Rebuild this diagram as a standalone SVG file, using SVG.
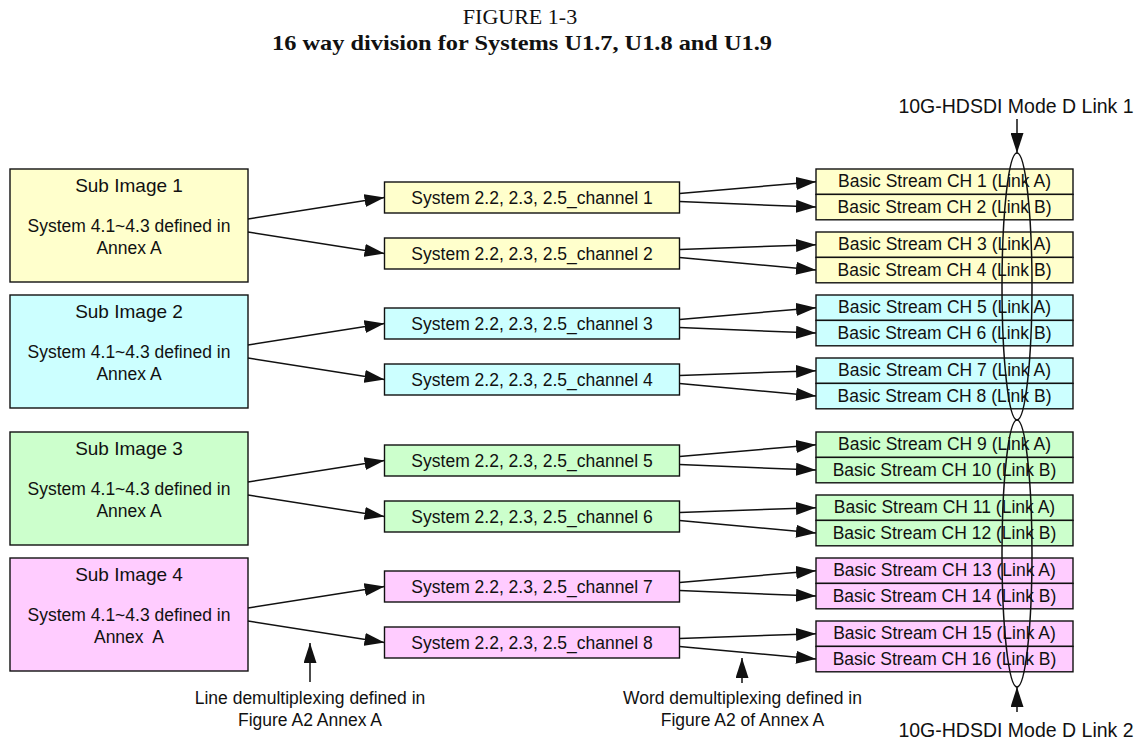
<svg xmlns="http://www.w3.org/2000/svg" width="1144" height="743" viewBox="0 0 1144 743">
<style>
text{font-family:"Liberation Sans",Arial,sans-serif;fill:#111;text-anchor:middle}
.ttl{font-family:"Liberation Serif","Times New Roman",serif;font-size:22px}
.ttlb{font-family:"Liberation Serif","Times New Roman",serif;font-size:22px;font-weight:bold}
.box{stroke:#111;stroke-width:1.4}
.y{fill:#FFFFCC}.c{fill:#CCFFFF}.g{fill:#CCFFCC}.p{fill:#FFCCFF}
.st{font-size:19px}
.bd{font-size:17.5px}
.lk{font-size:19.5px}
.cn line{stroke:#111;stroke-width:1.5;marker-end:url(#ah)}
.el{fill:none;stroke:#111;stroke-width:1.5}
</style>
<defs>
<marker id="ah" markerUnits="userSpaceOnUse" markerWidth="20" markerHeight="13" refX="20" refY="6.5" orient="auto">
<path d="M0,0 L20,6.5 L0,13 z" fill="#111"/>
</marker>
</defs>
<rect width="1144" height="743" fill="#fff"/>
<text class="ttl" x="520" y="24">FIGURE 1-3</text>
<text class="ttlb" x="522" y="49.5" textLength="500" lengthAdjust="spacingAndGlyphs">16 way division for Systems U1.7, U1.8 and U1.9</text>

<g id="sub1"><rect class="box y" x="10" y="169" width="238" height="113"/><text class="st" x="129" y="192">Sub Image 1</text><text class="bd" x="129" y="231.5">System 4.1~4.3 defined in</text><text class="bd" x="129" y="253.5">Annex A</text></g>
<g id="sub2"><rect class="box c" x="10" y="295" width="238" height="113"/><text class="st" x="129" y="318">Sub Image 2</text><text class="bd" x="129" y="357.5">System 4.1~4.3 defined in</text><text class="bd" x="129" y="379.5">Annex A</text></g>
<g id="sub3"><rect class="box g" x="10" y="432" width="238" height="113"/><text class="st" x="129" y="455">Sub Image 3</text><text class="bd" x="129" y="494.5">System 4.1~4.3 defined in</text><text class="bd" x="129" y="516.5">Annex A</text></g>
<g id="sub4"><rect class="box p" x="10" y="558" width="238" height="113"/><text class="st" x="129" y="581">Sub Image 4</text><text class="bd" x="129" y="620.5">System 4.1~4.3 defined in</text><text class="bd" x="129" y="642.5">Annex&#160; A</text></g>

<g id="ch1"><rect class="box y" x="384.5" y="182" width="295" height="31"/><text class="bd" x="532" y="204.3">System 2.2, 2.3, 2.5_channel 1</text></g>
<g id="ch2"><rect class="box y" x="384.5" y="238" width="295" height="31"/><text class="bd" x="532" y="260.3">System 2.2, 2.3, 2.5_channel 2</text></g>
<g id="ch3"><rect class="box c" x="384.5" y="308" width="295" height="31"/><text class="bd" x="532" y="330.3">System 2.2, 2.3, 2.5_channel 3</text></g>
<g id="ch4"><rect class="box c" x="384.5" y="364" width="295" height="31"/><text class="bd" x="532" y="386.3">System 2.2, 2.3, 2.5_channel 4</text></g>
<g id="ch5"><rect class="box g" x="384.5" y="445" width="295" height="31"/><text class="bd" x="532" y="467.3">System 2.2, 2.3, 2.5_channel 5</text></g>
<g id="ch6"><rect class="box g" x="384.5" y="501" width="295" height="31"/><text class="bd" x="532" y="523.3">System 2.2, 2.3, 2.5_channel 6</text></g>
<g id="ch7"><rect class="box p" x="384.5" y="571" width="295" height="31"/><text class="bd" x="532" y="593.3">System 2.2, 2.3, 2.5_channel 7</text></g>
<g id="ch8"><rect class="box p" x="384.5" y="627" width="295" height="31"/><text class="bd" x="532" y="649.3">System 2.2, 2.3, 2.5_channel 8</text></g>

<g id="bs1"><rect class="box y" x="816" y="169" width="257" height="25.4"/><text class="bd" x="944.5" y="187.3">Basic Stream CH 1 (Link A)</text></g>
<g id="bs2"><rect class="box y" x="816" y="194.4" width="257" height="25.4"/><text class="bd" x="944.5" y="212.7">Basic Stream CH 2 (Link B)</text></g>
<g id="bs3"><rect class="box y" x="816" y="232" width="257" height="25.4"/><text class="bd" x="944.5" y="250.3">Basic Stream CH 3 (Link A)</text></g>
<g id="bs4"><rect class="box y" x="816" y="257.4" width="257" height="25.4"/><text class="bd" x="944.5" y="275.7">Basic Stream CH 4 (Link B)</text></g>
<g id="bs5"><rect class="box c" x="816" y="295" width="257" height="25.4"/><text class="bd" x="944.5" y="313.3">Basic Stream CH 5 (Link A)</text></g>
<g id="bs6"><rect class="box c" x="816" y="320.4" width="257" height="25.4"/><text class="bd" x="944.5" y="338.7">Basic Stream CH 6 (Link B)</text></g>
<g id="bs7"><rect class="box c" x="816" y="358" width="257" height="25.4"/><text class="bd" x="944.5" y="376.3">Basic Stream CH 7 (Link A)</text></g>
<g id="bs8"><rect class="box c" x="816" y="383.4" width="257" height="25.4"/><text class="bd" x="944.5" y="401.7">Basic Stream CH 8 (Link B)</text></g>
<g id="bs9"><rect class="box g" x="816" y="432" width="257" height="25.4"/><text class="bd" x="944.5" y="450.3">Basic Stream CH 9 (Link A)</text></g>
<g id="bs10"><rect class="box g" x="816" y="457.4" width="257" height="25.4"/><text class="bd" x="944.5" y="475.7">Basic Stream CH 10 (Link B)</text></g>
<g id="bs11"><rect class="box g" x="816" y="495" width="257" height="25.4"/><text class="bd" x="944.5" y="513.3">Basic Stream CH 11 (Link A)</text></g>
<g id="bs12"><rect class="box g" x="816" y="520.4" width="257" height="25.4"/><text class="bd" x="944.5" y="538.7">Basic Stream CH 12 (Link B)</text></g>
<g id="bs13"><rect class="box p" x="816" y="558" width="257" height="25.4"/><text class="bd" x="944.5" y="576.3">Basic Stream CH 13 (Link A)</text></g>
<g id="bs14"><rect class="box p" x="816" y="583.4" width="257" height="25.4"/><text class="bd" x="944.5" y="601.7">Basic Stream CH 14 (Link B)</text></g>
<g id="bs15"><rect class="box p" x="816" y="621" width="257" height="25.4"/><text class="bd" x="944.5" y="639.3">Basic Stream CH 15 (Link A)</text></g>
<g id="bs16"><rect class="box p" x="816" y="646.4" width="257" height="25.4"/><text class="bd" x="944.5" y="664.7">Basic Stream CH 16 (Link B)</text></g>

<g id="link1"><ellipse class="el" cx="1017" cy="286.5" rx="15" ry="133.5"/><text class="lk" x="1016" y="113">10G-HDSDI Mode D Link 1</text></g>
<g id="link2"><ellipse class="el" cx="1017" cy="553.5" rx="15" ry="133.5"/><text class="lk" x="1016" y="736.5">10G-HDSDI Mode D Link 2</text></g>
<g id="note1"><text class="bd" x="310" y="704">Line demultiplexing defined in</text><text class="bd" x="310" y="726">Figure A2 Annex A</text></g>
<g id="note2"><text class="bd" x="742.5" y="704">Word demultiplexing defined in</text><text class="bd" x="742.5" y="726">Figure A2 of Annex A</text></g>

<g id="connectors" class="cn">
<line x1="248" y1="219" x2="384.5" y2="197.5"/><line x1="248" y1="232" x2="384.5" y2="253.5"/>
<line x1="248" y1="345" x2="384.5" y2="323.5"/><line x1="248" y1="358" x2="384.5" y2="379.5"/>
<line x1="248" y1="482" x2="384.5" y2="460.5"/><line x1="248" y1="495" x2="384.5" y2="516.5"/>
<line x1="248" y1="608" x2="384.5" y2="586.5"/><line x1="248" y1="621" x2="384.5" y2="642.5"/>
<line x1="679.5" y1="193.5" x2="816" y2="181.7"/><line x1="679.5" y1="201.5" x2="816" y2="207.1"/>
<line x1="679.5" y1="249.5" x2="816" y2="244.7"/><line x1="679.5" y1="257.5" x2="816" y2="270.1"/>
<line x1="679.5" y1="319.5" x2="816" y2="307.7"/><line x1="679.5" y1="327.5" x2="816" y2="333.1"/>
<line x1="679.5" y1="375.5" x2="816" y2="370.7"/><line x1="679.5" y1="383.5" x2="816" y2="396.1"/>
<line x1="679.5" y1="456.5" x2="816" y2="444.7"/><line x1="679.5" y1="464.5" x2="816" y2="470.1"/>
<line x1="679.5" y1="512.5" x2="816" y2="507.7"/><line x1="679.5" y1="520.5" x2="816" y2="533.1"/>
<line x1="679.5" y1="582.5" x2="816" y2="570.7"/><line x1="679.5" y1="590.5" x2="816" y2="596.1"/>
<line x1="679.5" y1="638.5" x2="816" y2="633.7"/><line x1="679.5" y1="646.5" x2="816" y2="659.1"/>
<line x1="1017" y1="119" x2="1017" y2="153"/>
<line x1="1017" y1="712" x2="1017" y2="687"/>
<line x1="310" y1="682" x2="310" y2="643"/>
<line x1="742" y1="683" x2="742" y2="658"/>
</g>
</svg>
